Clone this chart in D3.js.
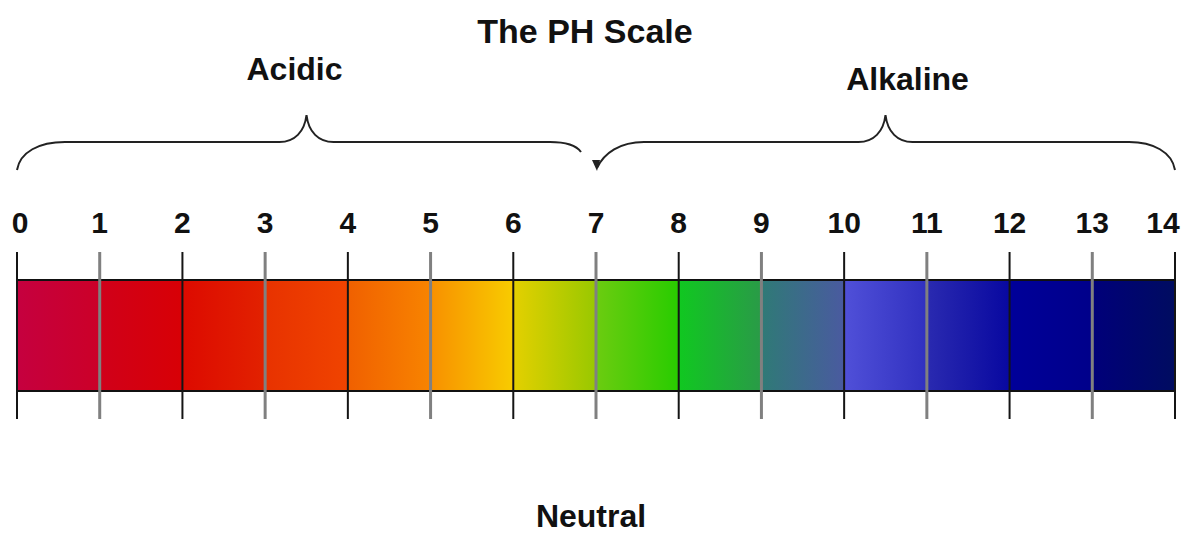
<!DOCTYPE html>
<html>
<head>
<meta charset="utf-8">
<script src="https://cdn.jsdelivr.net/npm/d3@7"></script>
<style>
  body { margin: 0; background: #fff; }
  text { font-family: "Liberation Sans", Arial, sans-serif; font-weight: bold; fill: #111; }
</style>
</head>
<body>
<svg id="ph" width="1192" height="536"></svg>
<script>

// pH values shown on the scale
let phTicks = [0, 1, 2, 3, 4, 5, 6, 7, 8, 9, 10, 11, 12, 13, 14];

// colour at start / end of each one-unit band
let bandStart = ["#c5003f", "#d0001a", "#dd0a00", "#e83200", "#f06000", "#f89000", "#e4d000",
                 "#6ccc10", "#10c820", "#2f7a76", "#5050d8", "#2a2ab0", "#000099", "#00007a"];
let bandEnd   = ["#cc0028", "#d80005", "#e22200", "#f04400", "#f88400", "#f8cc00", "#98c800",
                 "#28cc00", "#2a9a48", "#4a5aa0", "#3030c0", "#0808a0", "#00008a", "#000c60"];

// the two groups, [from, to] in pH
let groupNames = ["Acidic", "Alkaline"];
let groupRanges = [[0, 7], [7, 14]];

let svg = d3.select("svg#ph");
let width = +svg.attr("width");

let x = d3.scaleLinear().domain([0, 14]).range([17, 1175]);

let barTop = 280, barBottom = 391;

// gradients for each band
let defs = svg.append("defs");
for (let i = 0; i < bandStart.length; i++) {
  let g = defs.append("linearGradient").attr("id", "band" + i)
    .attr("x1", "0%").attr("x2", "100%").attr("y1", "0%").attr("y2", "0%");
  g.append("stop").attr("offset", "0%").attr("stop-color", bandStart[i]);
  g.append("stop").attr("offset", "100%").attr("stop-color", bandEnd[i]);
}

svg.selectAll("rect.band")
  .data(bandStart)
  .enter().append("rect")
  .attr("class", "band")
  .attr("x", (d, i) => x(i))
  .attr("y", barTop)
  .attr("width", (d, i) => x(i + 1) - x(i) + 0.5)
  .attr("height", barBottom - barTop)
  .attr("fill", (d, i) => "url(#band" + i + ")");

// top and bottom border of the bar
[barTop, barBottom].forEach(function(yy) {
  svg.append("line")
    .attr("x1", x(0)).attr("x2", x(14))
    .attr("y1", yy).attr("y2", yy)
    .attr("stroke", "#111").attr("stroke-width", 2);
});

// tick lines, alternating black / gray
svg.selectAll("line.tick")
  .data(phTicks)
  .enter().append("line")
  .attr("class", "tick")
  .attr("x1", d => x(d)).attr("x2", d => x(d))
  .attr("y1", 252).attr("y2", 419)
  .attr("stroke", d => d % 2 == 0 ? "#151515" : "#808080")
  .attr("stroke-width", d => d % 2 == 0 ? 2 : 3);

// tick labels
svg.selectAll("text.num")
  .data(phTicks)
  .enter().append("text")
  .attr("class", "num")
  .attr("x", d => Math.max(20, Math.min(1163, x(d))))
  .attr("y", 233)
  .attr("text-anchor", "middle")
  .style("font-size", "30px")
  .text(d => d);

// braces
function leftBrace(a, b) {
  let x0 = x(a), x1 = x(b), xm = x((a + b) / 2);
  return "M" + x0 + ",170 C" + (x0 + 3) + ",152 " + (x0 + 22) + ",142 " + (x0 + 48) + ",142" +
    " L" + (xm - 27) + ",142 C" + (xm - 12) + ",142 " + (xm - 2) + ",132 " + xm + ",115" +
    " C" + (xm + 2) + ",132 " + (xm + 12) + ",142 " + (xm + 27) + ",142" +
    " L" + (x1 - 46) + ",142 C" + (x1 - 30) + ",142 " + (x1 - 20) + ",145 " + (x1 - 15) + ",152";
}
function rightBrace(a, b) {
  let x0 = x(a), x1 = x(b), xm = x((a + b) / 2);
  return "M" + (x0 + 1) + ",168 C" + (x0 + 8) + ",153 " + (x0 + 24) + ",142 " + (x0 + 48) + ",142" +
    " L" + (xm - 27) + ",142 C" + (xm - 12) + ",142 " + (xm - 2) + ",132 " + xm + ",115" +
    " C" + (xm + 2) + ",132 " + (xm + 12) + ",142 " + (xm + 27) + ",142" +
    " L" + (x1 - 46) + ",142 C" + (x1 - 22) + ",142 " + (x1 - 3) + ",152 " + x1 + ",170";
}

svg.append("path")
  .attr("d", leftBrace(groupRanges[0][0], groupRanges[0][1]))
  .attr("fill", "none").attr("stroke", "#222").attr("stroke-width", 2);
svg.append("path")
  .attr("d", rightBrace(groupRanges[1][0], groupRanges[1][1]))
  .attr("fill", "none").attr("stroke", "#222").attr("stroke-width", 2);
// little point at neutral
svg.append("path")
  .attr("d", "M" + (x(7) - 4) + ",160 L" + (x(7) + 4) + ",160 L" + (x(7) + 1) + ",171 Z")
  .attr("fill", "#222");

// group names
svg.append("text").attr("x", x(3.5) - 12).attr("y", 80)
  .attr("text-anchor", "middle").style("font-size", "32px").text(groupNames[0]);
svg.append("text").attr("x", x(10.5) + 22).attr("y", 90)
  .attr("text-anchor", "middle").style("font-size", "32px").text(groupNames[1]);

// title and neutral label
svg.append("text").attr("x", 585).attr("y", 43)
  .attr("text-anchor", "middle").style("font-size", "34px").text("The PH Scale");
svg.append("text").attr("x", 591).attr("y", 527)
  .attr("text-anchor", "middle").style("font-size", "32px").text("Neutral");

</script>
</body>
</html>
